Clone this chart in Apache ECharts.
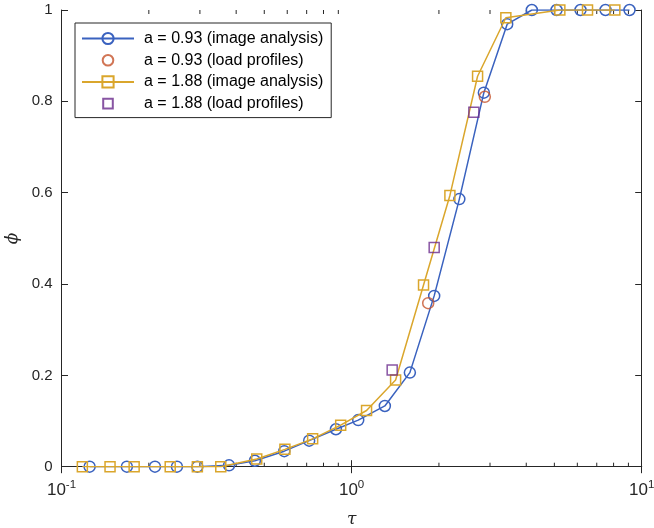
<!DOCTYPE html>
<html><head><meta charset="utf-8">
<script src="https://cdn.jsdelivr.net/npm/echarts@6/dist/echarts.min.js"></script>
<style>html,body{margin:0;padding:0;background:#fff}#c{width:654px;height:528px}</style>
</head><body><div id="c"></div>
<script>
// a = 0.93 (image analysis)
const tauA = [0.125, 0.168, 0.210, 0.250, 0.294, 0.378, 0.464, 0.586, 0.714, 0.883, 1.054, 1.302, 1.588, 1.926, 2.352, 2.857, 3.438, 4.181, 5.087, 6.152, 7.504, 9.078];
const phiA = [0, 0, 0, 0, 0, 0.003, 0.013, 0.034, 0.057, 0.082, 0.102, 0.133, 0.206, 0.374, 0.586, 0.819, 0.969, 1, 1, 1, 1, 1];
// a = 0.93 (load profiles)
const tauAL = [1.837, 2.879];
const phiAL = [0.358, 0.810];
// a = 1.88 (image analysis)
const tauB = [0.118, 0.147, 0.178, 0.237, 0.294, 0.354, 0.471, 0.589, 0.734, 0.917, 1.126, 1.418, 1.770, 2.182, 2.718, 3.402, 5.222, 6.505, 8.080];
const phiB = [0, 0, 0, 0, 0, 0, 0.017, 0.038, 0.061, 0.091, 0.123, 0.190, 0.398, 0.594, 0.855, 0.983, 1, 1, 1];
// a = 1.88 (load profiles)
const tauBL = [1.380, 1.926, 2.639];
const phiBL = [0.212, 0.480, 0.776];

const seriesNames = ['a = 0.93 (image analysis)', 'a = 0.93 (load profiles)', 'a = 1.88 (image analysis)', 'a = 1.88 (load profiles)'];
const yTicks = [0, 0.2, 0.4, 0.6, 0.8, 1];
const xMinorTicks = [0.2, 0.3, 0.4, 0.5, 0.6, 0.7, 0.8, 0.9, 2, 3, 4, 5, 6, 7, 8, 9];

const AX = '#262626';
const BLUE = '#3A62BF', RED = '#C5522A', YEL = '#DAA62C', PUR = '#6A2B8C';
const zip = (a, b) => a.map((v, i) => [v, b[i]]);
// small square legend icon padded inside a 14x14 box
const SQ_ICON = 'path://M0,0M14,14M2.2,2.2H11.8V11.8H2.2Z';
const CI_ICON = 'path://M0,0M14,14M12.3,7A5.3,5.3,0,1,1,1.7,7A5.3,5.3,0,1,1,12.3,7Z';

const chart = echarts.init(document.getElementById('c'), null, {renderer: 'canvas'});
const supLabel = v => {
  const e = Math.round(Math.log10(v));
  return '{b|10}{s|' + e + '}';
};
const xRich = {
  b: {fontSize: 17, fontFamily: 'Liberation Sans, Arial', color: AX},
  s: {fontSize: 11.5, fontFamily: 'Liberation Sans, Arial', color: AX, padding: [0, 0, 11, 0]}
};
const option = {
  animation: false,
  backgroundColor: '#fff',
  grid: {left: 61.5, right: 12.3, top: 10, bottom: 61.3, show: false, containLabel: false, outerBoundsMode: 'none'},
  legend: {
    orient: 'vertical', left: 75, top: 23,
    padding: [7.5, 8, 6, 6],
    borderColor: AX, borderWidth: 1, backgroundColor: '#fff',
    itemWidth: 52, itemHeight: 14, itemGap: 5.7,
    textStyle: {fontSize: 16, fontFamily: 'Liberation Sans, Arial', color: '#000', padding: [0, 0, 0, 5]},
    data: [
      {name: seriesNames[0]},
      {name: seriesNames[1], icon: CI_ICON},
      {name: seriesNames[2]},
      {name: seriesNames[3], icon: SQ_ICON}
    ]
  },
  xAxis: [{
    type: 'log', logBase: 10, min: 0.1, max: 10,
    name: 'τ', nameLocation: 'middle', nameGap: 44,
    nameTextStyle: {fontSize: 17, fontStyle: 'italic', fontFamily: 'DejaVu Serif, Liberation Serif', color: AX},
    axisLine: {show: true, lineStyle: {color: AX, width: 1}},
    axisTick: {show: true, inside: true, length: 6.5, lineStyle: {color: AX}},
    axisLabel: {margin: 12, formatter: supLabel, rich: xRich},
    splitLine: {show: false}, minorTick: {show: false}
  }, {
    type: 'log', logBase: 10, min: 0.1, max: 10, position: 'top',
    axisLine: {show: true, lineStyle: {color: AX, width: 1}},
    axisTick: {show: true, inside: true, length: 6.5, lineStyle: {color: AX}},
    axisLabel: {show: false}, splitLine: {show: false}
  }],
  yAxis: [{
    type: 'value', min: 0, max: 1, interval: 0.2,
    name: 'ϕ', nameLocation: 'middle', nameGap: 40, nameRotate: 90,
    nameTextStyle: {fontSize: 17, fontStyle: 'italic', fontFamily: 'DejaVu Serif, Liberation Serif', color: AX},
    axisLine: {show: true, lineStyle: {color: AX, width: 1}},
    axisTick: {show: true, inside: true, length: 6.5, lineStyle: {color: AX}},
    axisLabel: {margin: 9, fontSize: 15, fontFamily: 'Liberation Sans, Arial', color: AX,
      formatter: v => yTicks.includes(Math.round(v * 10) / 10) ? String(Math.round(v * 10) / 10) : ''},
    splitLine: {show: false}
  }, {
    type: 'value', min: 0, max: 1, interval: 0.2, position: 'right',
    axisLine: {show: true, lineStyle: {color: AX, width: 1}},
    axisTick: {show: true, inside: true, length: 6.5, lineStyle: {color: AX}},
    axisLabel: {show: false}, splitLine: {show: false}
  }],
  series: [
    {
      type: 'custom', name: 'minorTicks', silent: true, z: 1,
      data: xMinorTicks.map(v => [v]),
      renderItem: (params, api) => {
        const v = api.value(0);
        const b = api.coord([v, 0]);
        const t = api.coord([v, 1]);
        const st = {stroke: AX, lineWidth: 1};
        return {type: 'group', children: [
          {type: 'line', shape: {x1: b[0], y1: b[1], x2: b[0], y2: b[1] - 4}, style: st},
          {type: 'line', shape: {x1: t[0], y1: t[1], x2: t[0], y2: t[1] + 4}, style: st}
        ]};
      },
      encode: {x: 0}
    },
    {
      type: 'line', name: seriesNames[0], data: zip(tauA, phiA), z: 3,
      symbol: 'circle', symbolSize: 11,
      lineStyle: {color: BLUE, width: 1.5},
      itemStyle: {color: 'rgba(0,0,0,0)', borderColor: BLUE, borderWidth: 1.5}
    },
    {
      type: 'scatter', name: seriesNames[1], data: zip(tauAL, phiAL), z: 4,
      symbol: 'circle', symbolSize: 11,
      itemStyle: {color: 'rgba(0,0,0,0)', borderColor: RED, borderWidth: 1.5}
    },
    {
      type: 'line', name: seriesNames[2], data: zip(tauB, phiB), z: 5,
      symbol: 'rect', symbolSize: 10,
      lineStyle: {color: YEL, width: 1.5},
      itemStyle: {color: 'rgba(0,0,0,0)', borderColor: YEL, borderWidth: 1.5}
    },
    {
      type: 'scatter', name: seriesNames[3], data: zip(tauBL, phiBL), z: 6,
      symbol: 'rect', symbolSize: 10,
      itemStyle: {color: 'rgba(0,0,0,0)', borderColor: PUR, borderWidth: 1.5}
    }
  ]
};
chart.setOption(option);
</script></body></html>
